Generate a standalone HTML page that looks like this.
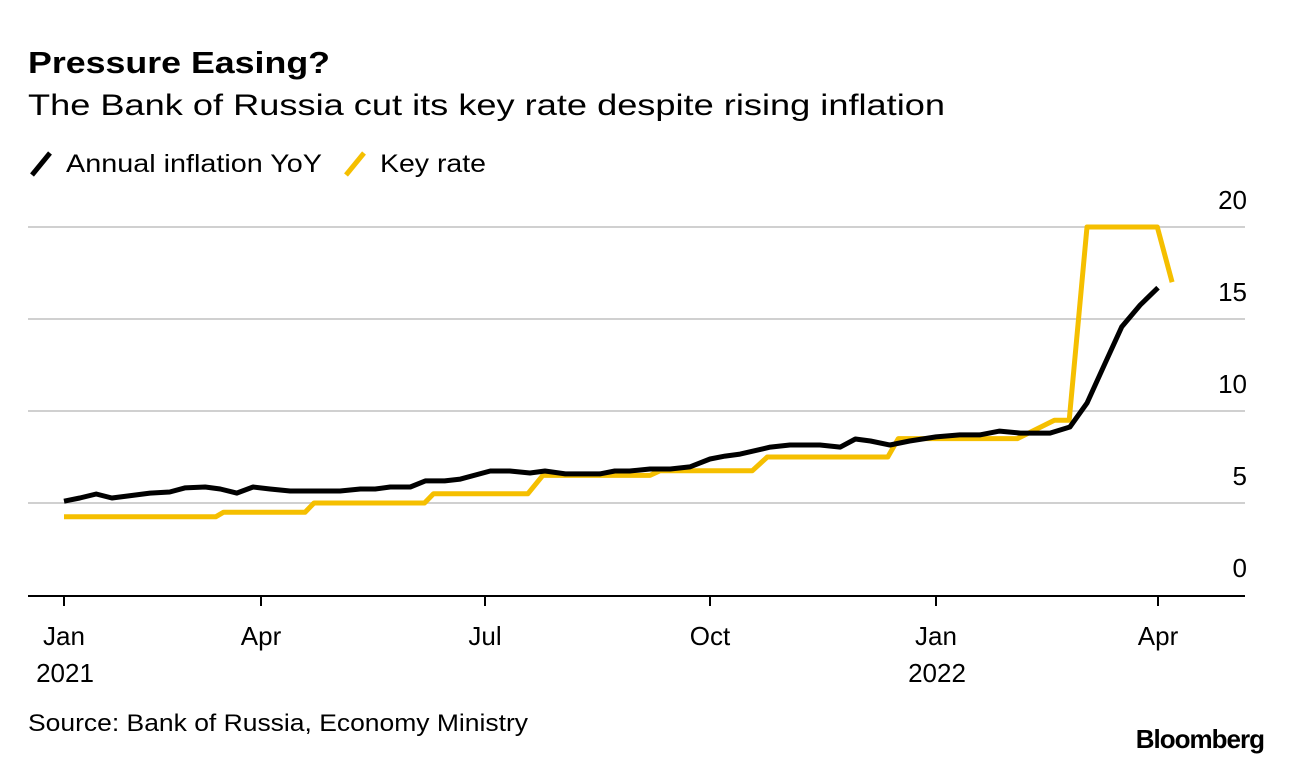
<!DOCTYPE html>
<html><head><meta charset="utf-8"><style>
body{margin:0;background:#fff;font-family:"Liberation Sans",Arial,sans-serif;}
#c{position:relative;width:1292px;height:764px;overflow:hidden;}
</style></head><body>
<div id="c">
<svg id="s" width="1292" height="764" font-family="Liberation Sans, Arial, sans-serif">
<text x="28" y="73" font-size="31" font-weight="bold" fill="#000" textLength="302" lengthAdjust="spacingAndGlyphs">Pressure Easing?</text>
<text x="28" y="115" font-size="30" fill="#000" textLength="917" lengthAdjust="spacingAndGlyphs">The Bank of Russia cut its key rate despite rising inflation</text>
<g>
<line x1="32" y1="175" x2="50" y2="153" stroke="#000" stroke-width="5"/>
<text x="66" y="172" font-size="25" fill="#000" textLength="256" lengthAdjust="spacingAndGlyphs">Annual inflation YoY</text>
<line x1="346" y1="175" x2="364" y2="153" stroke="#f5bf00" stroke-width="5"/>
<text x="380" y="172" font-size="25" fill="#000" textLength="106" lengthAdjust="spacingAndGlyphs">Key rate</text>
</g>
<g id="grid"></g><g id="xaxis"></g><g id="lines"></g>
<text x="28" y="731" font-size="24" fill="#000" textLength="500" lengthAdjust="spacingAndGlyphs">Source: Bank of Russia, Economy Ministry</text>
<text x="1264" y="748" font-size="26" font-weight="bold" fill="#000" text-anchor="end" letter-spacing="-1">Bloomberg</text>
</svg></div>
<script>
const yTicks=[0,5,10,15,20];
const xTickMonths=[0,3,6,9,12,15];
const xTickLabels=["Jan","Apr","Jul","Oct","Jan","Apr"];
const xTickYears=["2021","","","","2022",""];
const inflMonths=[0,0.24,0.49,0.73,0.97,1.31,1.61,1.84,2.15,2.38,2.63,2.88,3.12,3.39,3.66,4.06,4.33,4.53,4.73,5.0,5.2,5.46,5.67,6.07,6.33,6.6,6.8,7.07,7.53,7.73,7.93,8.2,8.47,8.73,9.0,9.2,9.4,9.8,10.06,10.46,10.73,10.93,11.13,11.39,11.65,12.0,12.32,12.59,12.86,13.14,13.54,13.81,14.04,14.28,14.51,14.76,15.0];
const inflValues=[5.1,5.27,5.49,5.27,5.38,5.54,5.6,5.82,5.87,5.76,5.54,5.87,5.76,5.65,5.65,5.65,5.76,5.76,5.87,5.87,6.2,6.2,6.3,6.74,6.74,6.63,6.74,6.58,6.58,6.74,6.74,6.85,6.85,6.96,7.39,7.55,7.66,8.04,8.15,8.15,8.04,8.48,8.37,8.15,8.37,8.59,8.7,8.7,8.91,8.8,8.8,9.13,10.43,12.55,14.57,15.76,16.7];
const rateMonths=[0,2.31,2.43,3.59,3.71,5.19,5.31,6.57,6.77,8.2,8.33,9.56,9.76,11.36,11.5,13.1,13.6,13.8,14.04,14.99,15.19];
const rateValues=[4.25,4.25,4.5,4.5,5,5,5.5,5.5,6.5,6.5,6.75,6.75,7.5,7.5,8.5,8.5,9.5,9.5,20,20,17];

const anchorsM=[0,3,6,9,12,15,18], anchorsX=[64,261,485,710,936,1158,1380];
function xs(m){for(let i=0;i<anchorsM.length-1;i++){if(m<=anchorsM[i+1]||i==anchorsM.length-2){const t=(m-anchorsM[i])/(anchorsM[i+1]-anchorsM[i]);return anchorsX[i]+t*(anchorsX[i+1]-anchorsX[i]);}}}
function ys(v){return 595-v*18.4;}
const NS="http://www.w3.org/2000/svg";
function mk(tag,attrs,parent){const e=document.createElementNS(NS,tag);for(const k in attrs)e.setAttribute(k,attrs[k]);parent.appendChild(e);return e;}
const grid=document.getElementById('grid');
yTicks.forEach(v=>{
 if(v>0){const l=mk('line',{x1:28,x2:1245,y1:ys(v),y2:ys(v),stroke:'#d0d0d0','stroke-width':2},grid);
 
 }
 const t=mk('text',{x:1247,y:ys(v)-18,'font-size':26,'text-anchor':'end',fill:'#000'},grid);t.textContent=v;
 
 
});
const xa=document.getElementById('xaxis');
const base=mk('line',{x1:28,x2:1245,y1:596,y2:596,stroke:'#000','stroke-width':2},xa);


xTickMonths.forEach((m,i)=>{
 const x=xs(m);
 const tk=mk('line',{x1:x,x2:x,y1:596,y2:606,stroke:'#000','stroke-width':2},xa);
 
 
 const t=mk('text',{x:x,y:645,'font-size':26,'text-anchor':'middle',fill:'#000'},xa);t.textContent=xTickLabels[i];
 
 
 if(xTickYears[i]){const y=mk('text',{x:x+1,y:682,'font-size':26,'text-anchor':'middle',fill:'#000'},xa);y.textContent=xTickYears[i];
 
 }
});
const lg=document.getElementById('lines');
function path(ms,vs){return ms.map((m,i)=>(i?'L':'M')+xs(m).toFixed(1)+','+ys(vs[i]).toFixed(1)).join(' ');}
const kr=mk('path',{d:path(rateMonths,rateValues),fill:'none',stroke:'#f5bf00','stroke-width':5,'stroke-linejoin':'round'},lg);


const inf=mk('path',{d:path(inflMonths,inflValues),fill:'none',stroke:'#000','stroke-width':5,'stroke-linejoin':'round'},lg);


</script>
</body></html>
